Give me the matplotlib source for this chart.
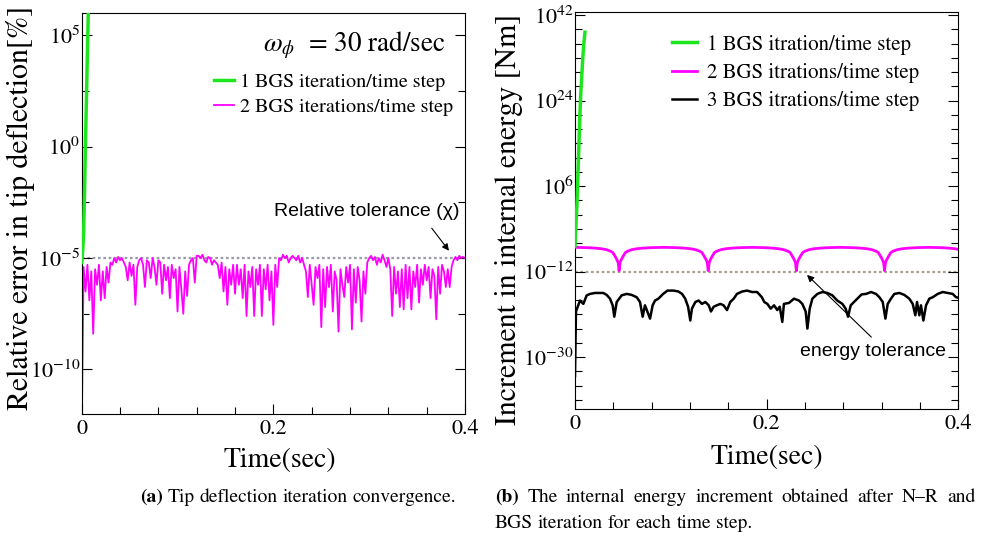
import numpy as np
import matplotlib.pyplot as plt
from matplotlib.ticker import FixedLocator, FuncFormatter, NullFormatter

plt.rcParams['font.family'] = 'STIXGeneral'
plt.rcParams['mathtext.fontset'] = 'stix'

# (a) relative error in tip deflection [%], stored as log10 values
t_tip_1 = [0, 0.001, 0.002, 0.003, 0.004, 0.005, 0.006, 0.007, 0.008]
log_tip_1 = [-5.2, -4.7, -3.9, -2.0, 0.3, 2.2, 4.3, 6.2, 8.0]

# 2 iterations: one value every 0.002 s from 0.002 to 0.400 (value at t=0 below)
log_tip_2_inicio = -13.0
log_tip_2 = [
    -5.4, -6.5, -5.3, -6.9, -5.6, -8.4, -5.5, -6.2, -5.3, -6.9,
    -5.6, -6.8, -5.4, -6.1, -5.2, -5.3, -5.0, -5.2, -4.95, -5.1,
    -5.0, -5.2, -5.4, -6.0, -5.2, -5.8, -5.3, -7.1, -5.4, -5.1,
    -5.0, -5.3, -6.3, -5.1, -5.2, -5.9, -5.0, -5.4, -6.2, -5.1,
    -5.2, -6.6, -5.3, -6.0, -5.4, -6.8, -5.3, -5.9, -5.5, -7.4,
    -5.4, -6.4, -7.5, -5.6, -6.7, -5.3, -5.1, -5.0, -6.1, -4.9,
    -4.9, -5.0, -4.85, -5.1, -5.2, -4.95, -5.0, -5.3, -5.1, -5.2,
    -5.3, -5.9, -5.2, -6.5, -5.4, -7.1, -5.5, -6.2, -5.3, -6.6,
    -5.3, -6.2, -5.5, -6.8, -5.3, -7.6, -5.6, -6.3, -5.4, -7.6,
    -5.5, -6.2, -5.3, -7.6, -5.5, -6.4, -5.3, -6.9, -5.6, -8.0,
    -5.3, -6.3, -5.0, -5.1, -4.85, -5.0, -4.9, -5.2, -5.0, -4.9,
    -5.0, -5.1, -4.9, -5.2, -5.0, -5.3, -5.6, -6.75, -5.3, -6.2,
    -7.1, -5.4, -5.9, -5.3, -8.1, -5.5, -7.2, -5.4, -6.3, -5.3,
    -7.4, -5.6, -6.0, -8.3, -5.5, -6.2, -6.75, -5.4, -6.1, -5.3,
    -8.2, -5.5, -7.0, -5.4, -6.0, -7.85, -5.6, -6.6, -5.2, -5.0,
    -4.9, -5.1, -4.95, -5.3, -5.0, -5.2, -4.85, -5.1, -5.4, -5.0,
    -5.5, -7.6, -5.4, -6.6, -5.6, -7.2, -5.5, -7.3, -5.3, -6.8,
    -5.4, -7.3, -5.6, -6.3, -5.3, -7.0, -5.5, -6.2, -5.3, -6.0,
    -5.4, -6.8, -5.5, -5.8, -7.75, -5.4, -6.6, -5.3, -5.6, -6.3,
    -5.5, -6.3, -5.4, -5.1, -4.95, -5.1, -4.9, -5.0, -4.95, -5.0,
]
tol_tip = 1e-5

# (b) increment in internal energy [Nm], log10 values
t_en_1 = [0, 0.001, 0.002, 0.003, 0.004, 0.005, 0.006, 0.007, 0.008, 0.009, 0.0104]
log_en_1 = [-6.6, -2.0, 2.0, 8.0, 14.0, 20.5, 25.5, 29.0, 32.5, 35.5, 38.4]

# 2 iterations: arcs between cusps, profile measured from a cusp
cusps_en_2 = [0.046, 0.139, 0.231, 0.323, 0.415]
arco_top = -6.9
arco_dist = [0, 0.001, 0.002, 0.003, 0.005, 0.0065, 0.009, 0.013, 0.018, 0.025, 0.035, 0.046]
arco_caida = [-4.9, -3.2, -2.7, -2.3, -1.6, -1.1, -0.8, -0.5, -0.3, -0.15, -0.05, 0]

t_en_3 = [
    0, 0.001, 0.0052, 0.0087, 0.0122, 0.0157, 0.0209, 0.026, 0.0295, 0.033,
    0.0365, 0.0393, 0.041, 0.0435, 0.0487, 0.054, 0.059, 0.0644, 0.0678, 0.0706,
    0.073, 0.0755, 0.0783, 0.081, 0.0835, 0.087, 0.092, 0.0965, 0.103, 0.108,
    0.1117, 0.115, 0.118, 0.1203, 0.122, 0.1256, 0.129, 0.1325, 0.136, 0.1395,
    0.1419, 0.1447, 0.148, 0.1517, 0.155, 0.1586, 0.162, 0.1656, 0.169, 0.1743,
    0.1795, 0.1847, 0.19, 0.195, 0.1975, 0.2007, 0.2042, 0.2077, 0.2111, 0.2136,
    0.2163, 0.218, 0.2233, 0.2285, 0.2337, 0.2372, 0.2407, 0.2425, 0.2449, 0.2477,
    0.2529, 0.2581, 0.2633, 0.2685, 0.2737, 0.279, 0.2824, 0.2849, 0.2877, 0.2911,
    0.2946, 0.2991, 0.3037, 0.3089, 0.3141, 0.3176, 0.3211, 0.3239, 0.3263, 0.3297,
    0.3332, 0.3384, 0.3436, 0.3488, 0.3524, 0.3551, 0.3569, 0.3593, 0.361, 0.3635,
    0.3663, 0.3697, 0.3733, 0.3785, 0.3837, 0.3889, 0.3941, 0.3976, 0.4,
]
log_en_3 = [
    -34, -20.4, -18.1, -18.8, -17.0, -16.7, -16.5, -16.5, -16.5, -16.9,
    -17.7, -19.1, -21.5, -18.4, -17.0, -16.7, -16.9, -17.4, -18.4, -21.5,
    -19.1, -20.4, -21.9, -19.1, -18.1, -17.7, -16.7, -16.0, -16.0, -16.2,
    -16.7, -17.7, -19.4, -22.3, -19.8, -18.4, -18.1, -18.8, -18.4, -19.1,
    -20.4, -19.4, -19.1, -18.8, -19.1, -20.1, -18.4, -17.7, -16.7, -16.2,
    -16.0, -16.3, -16.3, -17.4, -18.4, -18.8, -19.8, -19.1, -20.1, -19.4,
    -22.6, -18.8, -18.6, -17.7, -18.1, -18.8, -20.4, -24.0, -19.8, -17.7,
    -16.7, -16.3, -16.5, -17.0, -18.1, -18.8, -19.8, -21.5, -19.1, -18.4,
    -17.7, -16.8, -16.7, -16.3, -16.7, -17.4, -18.4, -21.9, -18.8, -17.7,
    -16.7, -16.5, -16.9, -17.7, -18.8, -21.2, -18.4, -21.2, -19.1, -22.3,
    -19.1, -17.7, -17.4, -16.7, -16.3, -16.5, -16.7, -17.4, -17.5,
]
tol_en = 1e-12

VERDE = '#1ee61e'
MAGENTA = '#ff00ff'


def estilo_ejes(ax, mayores, menores, ylim):
    ax.set_yscale('log')
    ax.set_xlim(0, 0.4)
    ax.set_ylim(*ylim)
    ax.xaxis.set_major_locator(FixedLocator([0, 0.2, 0.4]))
    ax.xaxis.set_minor_locator(FixedLocator([0.04 * k for k in range(1, 10)]))
    ax.xaxis.set_major_formatter(FuncFormatter(lambda v, p: f'{v:g}'))
    ax.yaxis.set_major_locator(FixedLocator(mayores))
    ax.yaxis.set_minor_locator(FixedLocator(menores))
    ax.yaxis.set_major_formatter(
        FuncFormatter(lambda v, p: r'$10^{%d}$' % round(np.log10(v))))
    ax.yaxis.set_minor_formatter(NullFormatter())
    ax.tick_params(which='both', direction='in', left=True, right=True,
                   top=False, labelsize=16)
    ax.tick_params(axis='y', pad=1)
    ax.tick_params(which='major', length=7, width=0.8)
    ax.tick_params(which='minor', length=5, width=0.8)


fig = plt.figure(figsize=(9.89, 5.39), dpi=100)
ax_a = fig.add_axes([0.0826, 0.2319, 0.3876, 0.744])
ax_b = fig.add_axes([0.5814, 0.2406, 0.3876, 0.7366])

# ---- panel (a)
t_tip_2 = [0.0] + [round(0.002 * k, 3) for k in range(1, len(log_tip_2) + 1)]
y_tip_2 = 10.0 ** np.array([log_tip_2_inicio] + log_tip_2)

ax_a.axhline(tol_tip, color='#9a9aa8', lw=1.6, ls=(0, (1.2, 1.2)), zorder=1)
ax_a.plot(t_tip_1, 10.0 ** np.array(log_tip_1), color=VERDE, lw=2.5,
          label='1 BGS iteration/time step', zorder=3)
ax_a.plot(t_tip_2, y_tip_2, color=MAGENTA, lw=1.3,
          label='2 BGS iterations/time step', zorder=2)

estilo_ejes(ax_a, [1e-10, 1e-5, 1, 1e5], [10 ** -7.5, 10 ** -2.5, 10 ** 2.5],
            (1e-12, 1e6))
ax_a.set_xlabel('Time(sec)', fontsize=20)
ax_a.set_ylabel('Relative error in tip deflection[%]', fontsize=21.5)
ax_a.xaxis.set_label_coords(0.516, -0.085)
ax_a.yaxis.set_label_coords(-0.122, 0.514)

ax_a.text(0.71, 0.92, r'$\omega_{\phi}$  = 30 rad/sec', transform=ax_a.transAxes,
          fontsize=19.5, ha='center', va='center')
ax_a.legend(loc='upper right', bbox_to_anchor=(0.99, 0.87), frameon=False,
            fontsize=14.5, handlelength=1.0, handletextpad=0.3,
            labelspacing=0.35, borderaxespad=0)

ax_a.text(0.2977, 10 ** -2.93, 'Relative tolerance (χ)', family='Liberation Sans',
          fontsize=14, ha='center', va='center')
ax_a.annotate('', xy=(0.385, 10 ** -4.77), xytext=(0.3635, 10 ** -3.56),
              arrowprops=dict(arrowstyle='-|>', color='k', lw=0.8, mutation_scale=10))

# ---- panel (b)
puntos = {}
for c in cusps_en_2:
    for d, caida in zip(arco_dist, arco_caida):
        for s in (-1, 1):
            puntos[round(c + s * d, 4)] = arco_top + caida
t_en_2 = sorted(puntos)
y_en_2 = 10.0 ** np.array([puntos[t] for t in t_en_2])

ax_b.axhline(tol_en, color='#a89f92', lw=1.6, ls=(0, (1.2, 1.2)), zorder=1)
ax_b.plot(t_en_1, 10.0 ** np.array(log_en_1), color=VERDE, lw=2.5,
          label='1 BGS itration/time step', zorder=4)
ax_b.plot(t_en_2, y_en_2, color=MAGENTA, lw=2.0,
          label='2 BGS itrations/time step', zorder=3)
ax_b.plot(t_en_3, 10.0 ** np.array(log_en_3), color='k', lw=1.8,
          label='3 BGS itrations/time step', zorder=2)

menores_b = [10.0 ** k for k in range(-39, 43, 3) if k not in (-30, -12, 6, 24, 42)]
estilo_ejes(ax_b, [1e-30, 1e-12, 1e6, 1e24, 1e42], menores_b, (1e-41, 10 ** 42.6))
ax_b.set_xlabel('Time(sec)', fontsize=20)
ax_b.set_ylabel('Increment in internal energy [Nm]', fontsize=21.5)
ax_b.xaxis.set_label_coords(0.5, -0.09)
ax_b.yaxis.set_label_coords(-0.135, 0.479)

ax_b.legend(loc='upper right', bbox_to_anchor=(0.92, 0.965), frameon=False,
            fontsize=15, handlelength=1.2, handletextpad=0.5,
            labelspacing=0.4, borderaxespad=0)

ax_b.text(0.311, 10 ** -28.9, 'energy tolerance', family='Liberation Sans',
          fontsize=14, ha='center', va='center')
ax_b.annotate('', xy=(0.24, 10 ** -12.3), xytext=(0.3113, 10 ** -26.2),
              arrowprops=dict(arrowstyle='-|>', color='k', lw=0.8, mutation_scale=10))

# ---- captions
W, H = fig.get_size_inches() * fig.dpi
rend = fig.canvas.get_renderer()


def ancho(t):
    return t.get_window_extent(rend).width


def linea(x0, y, palabras, x1=None, size=14):
    # words placed one by one; if x1 is given the line is justified
    textos = []
    for i, p in enumerate(palabras):
        peso = 'bold' if p.startswith('(') and i == 0 else 'normal'
        textos.append(fig.text(0, 1 - y / H, p, fontsize=size, fontweight=peso,
                               va='center', ha='left'))
    anchos = [ancho(t) for t in textos]
    if x1 is None:
        esp = 0.25 * size * fig.dpi / 72
    else:
        esp = (x1 - x0 - sum(anchos)) / (len(palabras) - 1)
    x = x0
    for t, w in zip(textos, anchos):
        t.set_x(x / W)
        x += w + esp


linea(140, 497, '(a) Tip deflection iteration convergence.'.split())
linea(495, 497, '(b) The internal energy increment obtained after N–R and'.split(), x1=975)
linea(495, 523, 'BGS iteration for each time step.'.split())

fig.savefig('out.png', dpi=100)
